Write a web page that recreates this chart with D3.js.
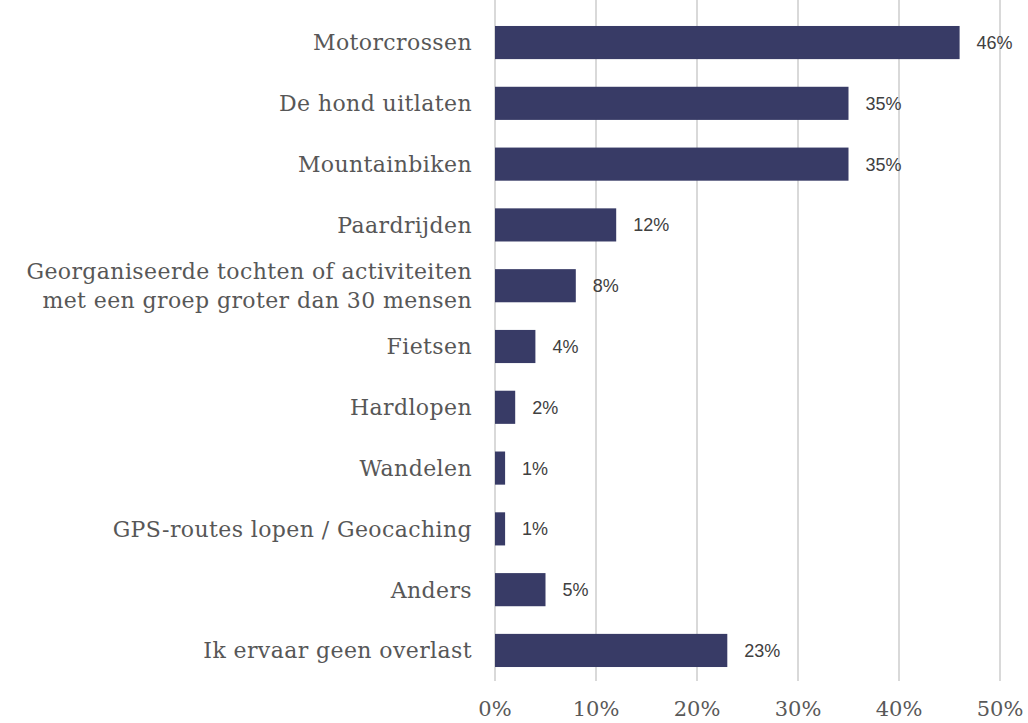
<!DOCTYPE html>
<html>
<head>
<meta charset="utf-8">
<script src="https://cdn.jsdelivr.net/npm/d3@7"></script>
<style>
  body { margin: 0; background: #fff; }
  svg { display: block; }
</style>
</head>
<body>
<div id="chart"></div>
<script>
// data
const categories = [
  "Motorcrossen",
  "De hond uitlaten",
  "Mountainbiken",
  "Paardrijden",
  "Georganiseerde tochten of activiteiten|met een groep groter dan 30 mensen",
  "Fietsen",
  "Hardlopen",
  "Wandelen",
  "GPS-routes lopen / Geocaching",
  "Anders",
  "Ik ervaar geen overlast"
];
const values = [46, 35, 35, 12, 8, 4, 2, 1, 1, 5, 23];
const ticks = [0, 10, 20, 30, 40, 50];

const W = 1028, H = 723;
const x0 = 495, x1 = 1000;
const yTop = 12, yBottom = 681;

const svg = d3.select("#chart").append("svg")
  .attr("width", W)
  .attr("height", H);

const x = d3.scaleLinear().domain([0, 50]).range([x0, x1]);
const y = d3.scaleBand().domain(categories).range([yTop, yBottom]).paddingInner(0.455).paddingOuter(0.23);

// gridlines
svg.append("g")
  .selectAll("line").data(ticks)
  .enter().append("line")
    .attr("x1", d => x(d)).attr("x2", d => x(d))
    .attr("y1", 0).attr("y2", yBottom)
    .attr("stroke", "#d9d9d9")
    .attr("stroke-width", 2);

// bars
svg.append("g")
  .selectAll("rect").data(values)
  .enter().append("rect")
    .attr("x", x(0))
    .attr("y", (d, i) => y(categories[i]))
    .attr("width", d => x(d) - x(0))
    .attr("height", y.bandwidth())
    .attr("fill", "#383b66");

// value labels
svg.append("g")
  .selectAll("text").data(values)
  .enter().append("text")
    .attr("x", d => x(d) + 17)
    .attr("y", (d, i) => y(categories[i]) + y.bandwidth() / 2)
    .attr("dy", "0.36em")
    .attr("font-family", "'Liberation Sans', Arial, sans-serif")
    .attr("font-size", 18)
    .attr("fill", "#404040")
    .text(d => d + "%");

// category labels
const cat = svg.append("g")
  .selectAll("text").data(categories)
  .enter().append("text")
    .attr("x", 472)
    .attr("y", d => y(d) + y.bandwidth() / 2)
    .attr("text-anchor", "end")
    .attr("font-family", "'DejaVu Serif', serif")
    .attr("font-size", 22)
    .attr("letter-spacing", 0.4)
    .attr("fill", "#575757");

cat.each(function(d) {
  const lines = d.split("|");
  const t = d3.select(this);
  lines.forEach((l, i) => {
    t.append("tspan")
      .attr("x", 472)
      .attr("dy", i === 0 ? (0.36 - (lines.length - 1) * 0.65) + "em" : "1.3em")
      .text(l);
  });
});

// x tick labels
svg.append("g")
  .selectAll("text").data(ticks)
  .enter().append("text")
    .attr("x", d => x(d))
    .attr("y", 716)
    .attr("text-anchor", "middle")
    .attr("font-family", "'DejaVu Serif', serif")
    .attr("font-size", 21)
    .attr("fill", "#595959")
    .text(d => d + "%");
</script>
</body>
</html>
